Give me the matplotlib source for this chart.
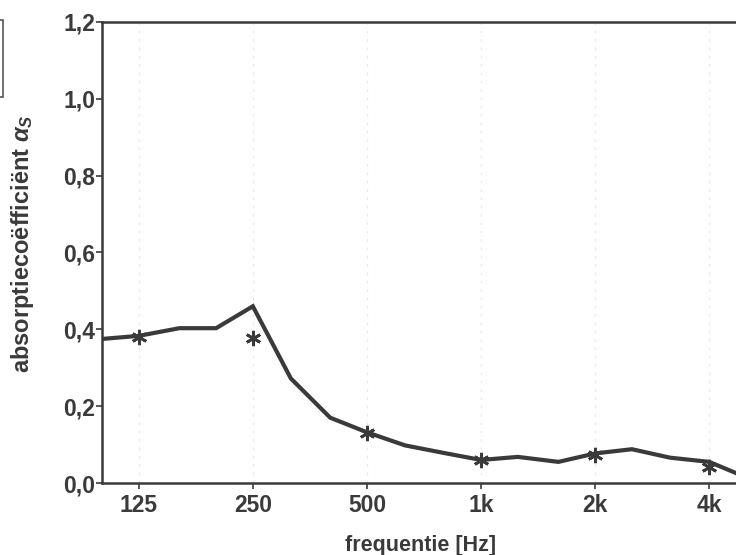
import numpy as np
import matplotlib
matplotlib.use("Agg")
import matplotlib.pyplot as plt
from matplotlib.patches import Rectangle

# third-octave band curve
freqs = [100, 125, 160, 200, 250, 315, 400, 500, 630, 800,
         1000, 1250, 1600, 2000, 2500, 3150, 4000, 5000]
alpha_curve = [0.375, 0.383, 0.403, 0.403, 0.46, 0.272, 0.17, 0.132, 0.098, 0.078,
               0.06, 0.068, 0.055, 0.077, 0.088, 0.066, 0.055, 0.015]

# octave band points (asterisks)
oct_freqs = [125, 250, 500, 1000, 2000, 4000]
oct_alpha = [0.38, 0.377, 0.13, 0.06, 0.074, 0.042]
oct_labels = ["125", "250", "500", "1k", "2k", "4k"]

y_ticks = [0.0, 0.2, 0.4, 0.6, 0.8, 1.0, 1.2]
y_labels = ["0,0", "0,2", "0,4", "0,6", "0,8", "1,0", "1,2"]

plt.rcParams["font.family"] = ["Liberation Sans", "DejaVu Sans"]
plt.rcParams["font.weight"] = "bold"
plt.rcParams["mathtext.fontset"] = "custom"
plt.rcParams["mathtext.it"] = "Liberation Sans:italic:bold"
plt.rcParams["mathtext.rm"] = "Liberation Sans:bold"
ink = "#3a3a3a"

fig = plt.figure(figsize=(7.36, 5.55), dpi=100)
ax = fig.add_axes([0.1386, 0.1297, 0.875, 0.8307])

ax.plot(freqs, alpha_curve, color=ink, lw=3.0, solid_joinstyle="miter")
ax.plot(oct_freqs, oct_alpha, ls="none", marker=(6, 2, 0), ms=11, mew=2.0, color=ink)

ax.set_xscale("log")
ax.set_xlim(100, 5000)
ax.set_ylim(0, 1.2)
ax.set_xticks(oct_freqs)
ax.set_xticklabels(oct_labels)
ax.xaxis.set_minor_locator(matplotlib.ticker.NullLocator())
ax.set_yticks(y_ticks)
ax.set_yticklabels(y_labels)
ax.tick_params(axis="both", labelsize=16.5, colors=ink, length=4, width=1.2)
ax.tick_params(axis="x", pad=4)
ax.tick_params(axis="y", pad=1)

ax.grid(True, axis="x", color="#ebebeb", ls=(0, (2, 4)), lw=1.0)

for s in ["left", "bottom", "top"]:
    ax.spines[s].set_color(ink)
    ax.spines[s].set_linewidth(1.8)
ax.spines["right"].set_visible(False)

ax.set_xlabel("frequentie [Hz]", fontsize=15.5, fontweight="bold", color=ink)
ax.xaxis.set_label_coords(0.494, -0.112)
ax.set_ylabel(r"absorptiecoëfficiënt $\alpha_S$", fontsize=17, fontweight="bold",
              color=ink)
ax.yaxis.set_label_coords(-0.103, 0.52)

# piece of a box cut off at the left edge
fig.patches.append(Rectangle((-0.01, 1 - 97 / 555), 0.014, 77 / 555,
                             transform=fig.transFigure, fill=False,
                             edgecolor="#555555", lw=1.2))

fig.savefig("out.png", dpi=100)
